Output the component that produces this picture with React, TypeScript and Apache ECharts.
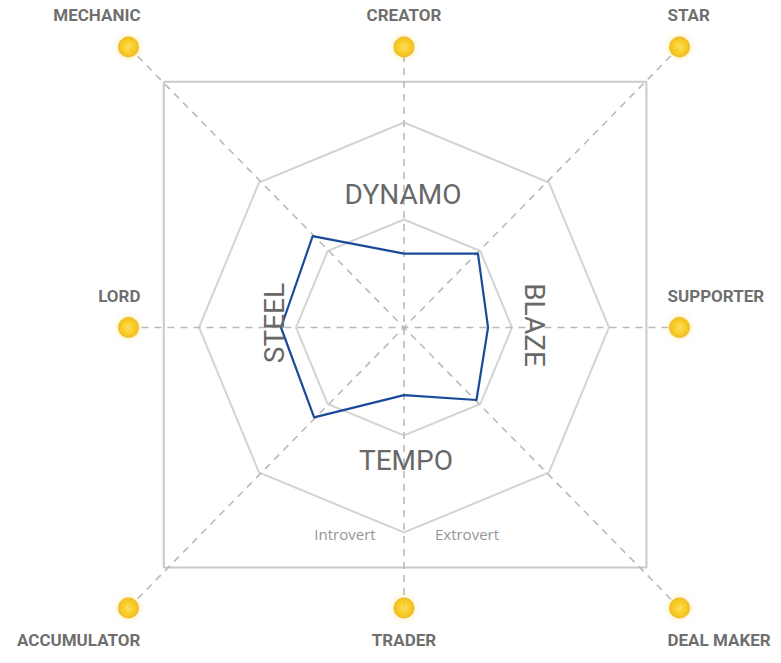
import React, { useEffect, useRef } from "react";
import * as echarts from "echarts";

// Radar indicators (counter-clockwise from top)
const indicators = ["CREATOR", "MECHANIC", "LORD", "ACCUMULATOR", "TRADER", "DEAL MAKER", "SUPPORTER", "STAR"];
const profileValues = [36, 63, 60, 62, 33, 50, 41, 51];
const indicatorMax = 100;

// Anchor dots (unit coordinates of the outer frame)
const dotNames = ["MECHANIC", "CREATOR", "STAR", "LORD", "SUPPORTER", "ACCUMULATOR", "TRADER", "DEAL MAKER"];
const dotX = [-1, 0, 1, -1, 1, -1, 0, 1];
const dotY = [1, 1, 1, 0, 0, -1, -1, -1];

// Square frame corners (unit coordinates)
const frameX = [-0.872, 0.88, 0.88, -0.872, -0.872];
const frameY = [0.876, 0.876, -0.856, -0.856, 0.876];

// Type labels inside the chart
const typeLabels = ["DYNAMO", "BLAZE", "TEMPO", "STEEL"];
const sideLabels = ["Introvert", "Extrovert"];

const App: React.FC = () => {
  const ref = useRef<HTMLDivElement>(null);

  useEffect(() => {
    if (!ref.current) return;
    const chart = echarts.init(ref.current, undefined, { renderer: "svg" });
    const cx = 404;
    const cy = 327.5;

    const dash = { color: "#bababa", width: 1.6, type: [7, 6] as any };
    const dashedLines = [
      [[-1, 0], [1, 0]],
      [[0, -1], [0, 1]],
      [[-1, -1], [1, 1]],
      [[-1, 1], [1, -1]],
    ].map((d) => ({
      type: "line",
      data: d,
      symbol: "none",
      silent: true,
      lineStyle: dash,
      z: 1,
    }));

    const dotGradient = {
      type: "radial",
      x: 0.5,
      y: 0.5,
      r: 0.5,
      colorStops: [
        { offset: 0, color: "#ffdc4a" },
        { offset: 0.65, color: "#f7c200" },
        { offset: 1, color: "#e9ad00" },
      ],
    };

    const dotData = dotNames.map((name, i) => {
      const x = dotX[i];
      const y = dotY[i];
      const align = x < 0 ? "right" : x > 0 ? "left" : "center";
      const dx = x < 0 ? 12 : x > 0 ? -12 : 0;
      const dy = y < 0 ? 32 : -32;
      return {
        name,
        value: [x, y],
        label: { align, offset: [dx, dy] },
      };
    });

    chart.setOption({
      animation: false,
      backgroundColor: "#ffffff",
      grid: { left: 128.5, top: 47, width: 551, height: 561 },
      xAxis: { type: "value", min: -1, max: 1, show: false },
      yAxis: { type: "value", min: -1, max: 1, show: false },
      radar: [205, 108].map((radius) => ({
        center: [cx, cy],
        radius,
        startAngle: 90,
        shape: "polygon",
        splitNumber: 1,
        indicator: indicators.map((n) => ({ name: n, min: 0, max: indicatorMax })),
        axisName: { show: false },
        axisLine: { show: false },
        axisTick: { show: false },
        axisLabel: { show: false },
        splitArea: { show: false },
        splitLine: { lineStyle: { color: "#d4d4d4", width: 2 } },
      })),
      graphic: [
        ...[
          { t: typeLabels[0], x: 403, y: 194, r: 0 },
          { t: typeLabels[1], x: 534, y: 325, r: -Math.PI / 2 },
          { t: typeLabels[2], x: 406, y: 460, r: 0 },
          { t: typeLabels[3], x: 274, y: 323, r: Math.PI / 2 },
        ].map((l) => ({
          type: "text",
          x: l.x,
          y: l.y,
          rotation: l.r,
          silent: true,
          z: 5,
          style: {
            text: l.t,
            fontSize: 28,
            fontFamily: "Roboto",
            fontWeight: "normal",
            fill: "#686868",
            align: "center",
            verticalAlign: "middle",
          },
        })),
        ...[
          { t: sideLabels[0], x: 345, y: 534 },
          { t: sideLabels[1], x: 467, y: 534 },
        ].map((l) => ({
          type: "text",
          x: l.x,
          y: l.y,
          silent: true,
          z: 5,
          style: {
            text: l.t,
            fontSize: 15,
            fontFamily: "Open Sans",
            fill: "#969696",
            align: "center",
            verticalAlign: "middle",
          },
        })),
      ],
      series: [
        {
          type: "line",
          data: frameX.map((x, i) => [x, frameY[i]]),
          symbol: "none",
          silent: true,
          lineStyle: { color: "#cacaca", width: 2 },
          z: 1,
        },
        ...dashedLines,
        {
          type: "radar",
          radarIndex: 0,
          symbol: "none",
          silent: true,
          z: 4,
          lineStyle: { color: "#1a4b98", width: 2.2 },
          data: [{ value: profileValues, name: "Profile" }],
        },
        {
          type: "scatter",
          data: dotData,
          symbol: "circle",
          symbolSize: 21,
          silent: true,
          z: 6,
          itemStyle: {
            color: dotGradient,
            shadowBlur: 6,
            shadowColor: "rgba(245, 190, 0, 0.45)",
          },
          label: {
            show: true,
            position: "inside",
            formatter: "{b}",
            fontFamily: "Roboto",
            fontWeight: "bold",
            fontSize: 17,
            color: "#474747",
            verticalAlign: "middle",
          },
        },
      ],
    });

    return () => chart.dispose();
  }, []);

  return (
    <div
      ref={ref}
      style={{ position: "fixed", left: 0, top: 0, width: 781, height: 663 }}
    />
  );
};

export default App;
